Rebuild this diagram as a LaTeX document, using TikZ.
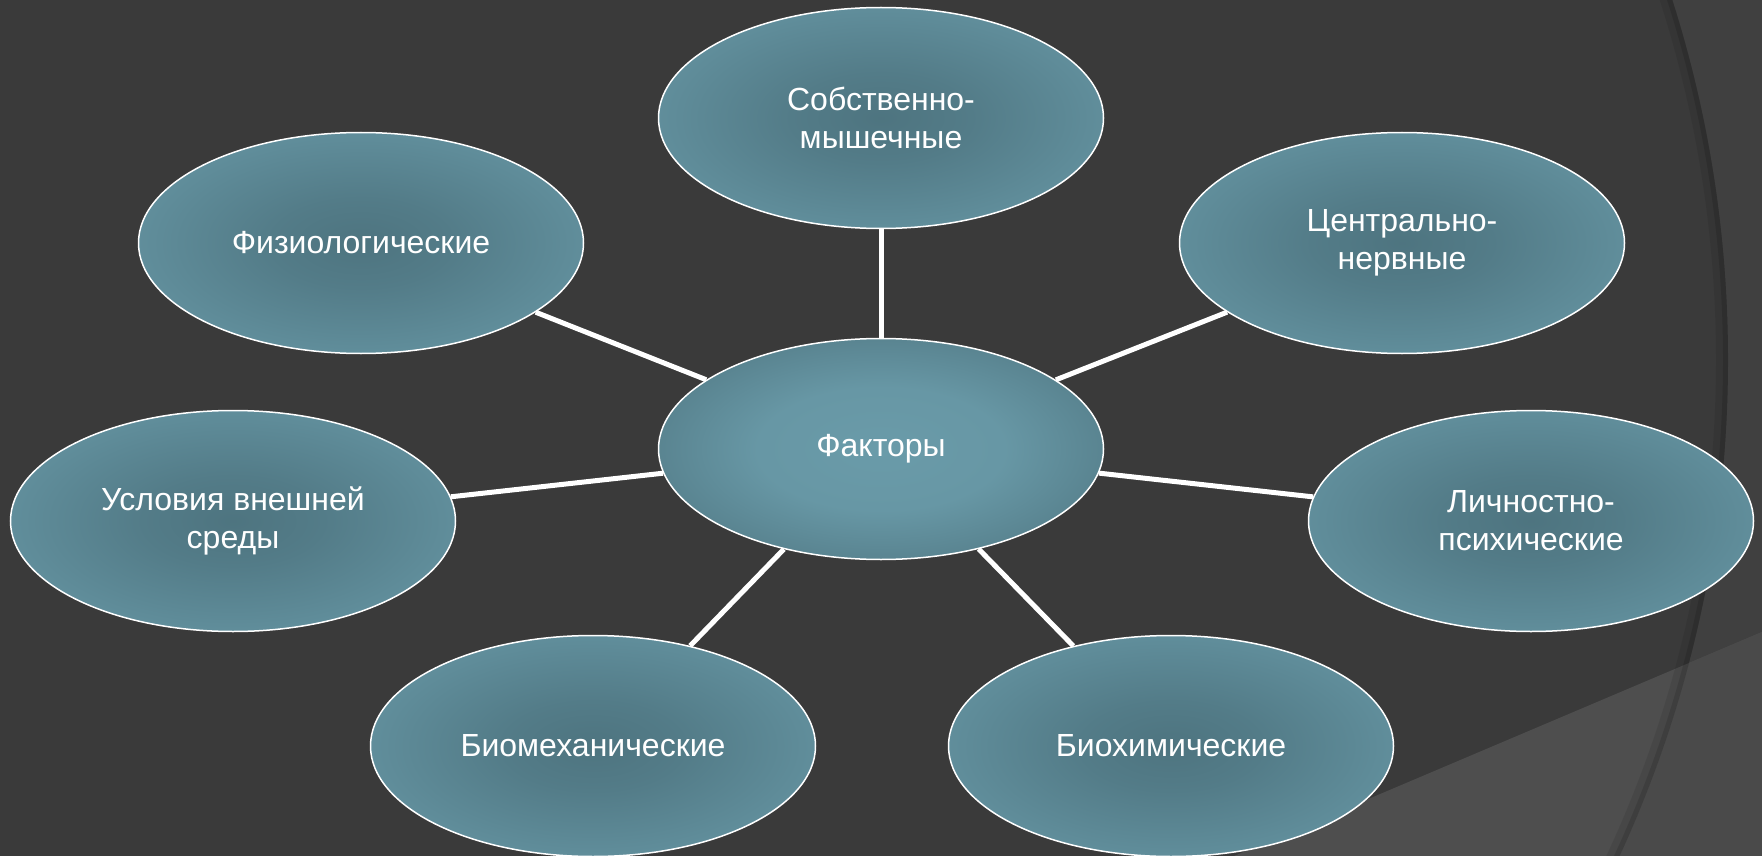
\documentclass[tikz,border=0pt]{standalone}
\usepackage{fontspec}
\setmainfont{Liberation Sans}
\usetikzlibrary{shapes.geometric}

\definecolor{bgdark}{HTML}{3A3A3A}
\definecolor{bgedge}{HTML}{404040}
\definecolor{bglow}{HTML}{4E4E4E}
\definecolor{bglowedge}{HTML}{4A4A4A}
\definecolor{tealdark}{HTML}{517985}
\definecolor{teallight}{HTML}{6A9BA9}
\pgfdeclareradialshading{hubshade}{\pgfpoint{0bp}{0bp}}{color(0bp)=(teallight); color(14bp)=(teallight!88!tealdark);
  color(36bp)=(tealdark!94!black); color(50bp)=(tealdark!94!black)}
\pgfdeclareradialshading{factorshade}{\pgfpoint{0bp}{0bp}}{color(0bp)=(tealdark!96!black); color(10bp)=(tealdark!92!teallight);
  color(36bp)=(teallight); color(50bp)=(teallight)}

\tikzset{
  factor/.style={ellipse, draw=white, line width=1.5pt, shading=factorshade,
    minimum width=445pt, minimum height=221pt, inner sep=0pt, text=white, align=center,
    font=\fontsize{32}{38}\selectfont},
  hub/.style={factor, shading=hubshade},
  link/.style={draw=white, line width=5pt}
}

\begin{document}
\begin{tikzpicture}[x=1pt,y=-1pt]
\useasboundingbox (0,0) rectangle (1762,856);
\clip (0,0) rectangle (1762,856);
\fill[bgdark] (0,0) rectangle (1762,856);
\fill[bgedge, even odd rule] (0,0) rectangle (1762,856) (543,360) circle[radius=1185];
\fill[bglow] (1234,856) -- (1762,632) -- (1762,856) -- cycle;
\begin{scope}
  \clip (1234,856) -- (1762,632) -- (1762,856) -- cycle;
  \fill[bglowedge, even odd rule] (0,0) rectangle (1762,856) (543,360) circle[radius=1185];
\end{scope}
\draw[black, opacity=0.08, line width=12pt] (543,360) circle[radius=1179];
\draw[black, opacity=0.12, line width=5pt] (543,360) circle[radius=1182.5];

\node[hub] (fak) at (881,449) {Факторы};
\node[factor] (sob) at (881,118) {Собственно-\\мышечные};
\node[factor] (fiz) at (361,243) {Физиологические};
\node[factor] (cen) at (1402,243) {Центрально-\\нервные};
\node[factor] (usl) at (233,521) {Условия внешней\\среды};
\node[factor] (lic) at (1531,521) {Личностно-\\психические};
\node[factor] (biom) at (593,746) {Биомеханические};
\node[factor] (bioh) at (1171,746) {Биохимические};

\foreach \n in {sob,fiz,cen,usl,lic,biom,bioh}
  \draw[link] (fak) -- (\n);
\end{tikzpicture}
\end{document}
